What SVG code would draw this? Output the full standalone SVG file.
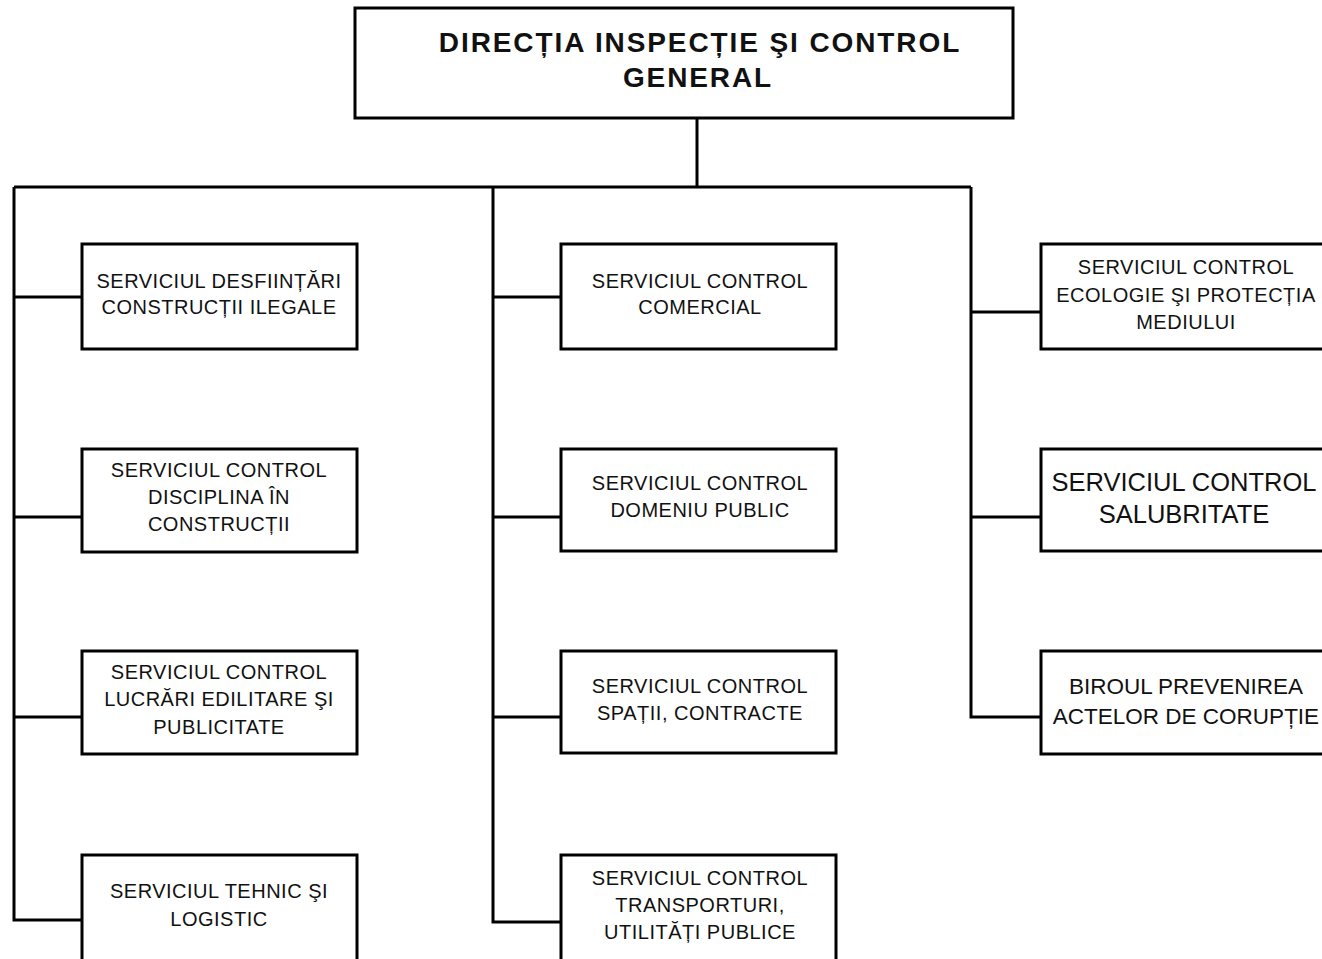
<svg xmlns="http://www.w3.org/2000/svg" width="1322" height="959" viewBox="0 0 1322 959">
<style>
.box{fill:#fff;stroke:#000;stroke-width:3}
.ln{fill:none;stroke:#000;stroke-width:3}
text{font-family:"Liberation Sans",Arial,sans-serif;fill:#111;text-anchor:middle}
.t{font-size:20px;letter-spacing:0.5px}
.h{font-size:28px;font-weight:bold;letter-spacing:1.9px}
.b{font-size:25.5px}
.m{font-size:22.5px}
</style>
<rect width="1322" height="959" fill="#fff"/>
<g id="connectors">
<path class="ln" d="M697 118V187M14 187H971M14 187V920H82M14 297H82M14 517H82M14 717H82"/>
<path class="ln" d="M493 187V922H561M493 297H561M493 517H561M493 717H561"/>
<path class="ln" d="M971 187V717H1041M971 312H1041M971 517H1041"/>
</g>
<g id="root"><rect class="box" x="355" y="8" width="658" height="110"/>
<text class="h" x="700" y="52">DIRECȚIA INSPECȚIE ŞI CONTROL</text><text class="h" x="698" y="87">GENERAL</text></g>
<g id="l1"><rect class="box" x="82" y="244" width="275" height="105"/>
<text class="t" x="219" y="288">SERVICIUL DESFIINȚĂRI</text><text class="t" x="219" y="314">CONSTRUCȚII ILEGALE</text></g>
<g id="l2"><rect class="box" x="82" y="449" width="275" height="103"/>
<text class="t" x="219" y="477">SERVICIUL CONTROL</text><text class="t" x="219" y="504">DISCIPLINA ÎN</text><text class="t" x="219" y="531">CONSTRUCȚII</text></g>
<g id="l3"><rect class="box" x="82" y="651" width="275" height="103"/>
<text class="t" x="219" y="679">SERVICIUL CONTROL</text><text class="t" x="219" y="706">LUCRĂRI EDILITARE ŞI</text><text class="t" x="219" y="734">PUBLICITATE</text></g>
<g id="l4"><rect class="box" x="82" y="855" width="275" height="110"/>
<text class="t" x="219" y="898">SERVICIUL TEHNIC ŞI</text><text class="t" x="219" y="926">LOGISTIC</text></g>
<g id="m1"><rect class="box" x="561" y="244" width="275" height="105"/>
<text class="t" x="700" y="288">SERVICIUL CONTROL</text><text class="t" x="700" y="314">COMERCIAL</text></g>
<g id="m2"><rect class="box" x="561" y="449" width="275" height="102"/>
<text class="t" x="700" y="490">SERVICIUL CONTROL</text><text class="t" x="700" y="517">DOMENIU PUBLIC</text></g>
<g id="m3"><rect class="box" x="561" y="651" width="275" height="102"/>
<text class="t" x="700" y="693">SERVICIUL CONTROL</text><text class="t" x="700" y="720">SPAȚII, CONTRACTE</text></g>
<g id="m4"><rect class="box" x="561" y="855" width="275" height="110"/>
<text class="t" x="700" y="885">SERVICIUL CONTROL</text><text class="t" x="700" y="912">TRANSPORTURI,</text><text class="t" x="700" y="939">UTILITĂȚI PUBLICE</text></g>
<g id="r1"><rect class="box" x="1041" y="244" width="290" height="105"/>
<text class="t" x="1186" y="274">SERVICIUL CONTROL</text><text class="t" x="1186" y="302">ECOLOGIE ŞI PROTECȚIA</text><text class="t" x="1186" y="329">MEDIULUI</text></g>
<g id="r2"><rect class="box" x="1041" y="449" width="290" height="102"/>
<text class="b" x="1184" y="491">SERVICIUL CONTROL</text><text class="b" x="1184" y="523">SALUBRITATE</text></g>
<g id="r3"><rect class="box" x="1041" y="651" width="290" height="103"/>
<text class="m" x="1186" y="694">BIROUL PREVENIREA</text><text class="m" x="1186" y="724">ACTELOR DE CORUPȚIE</text></g>
</svg>
